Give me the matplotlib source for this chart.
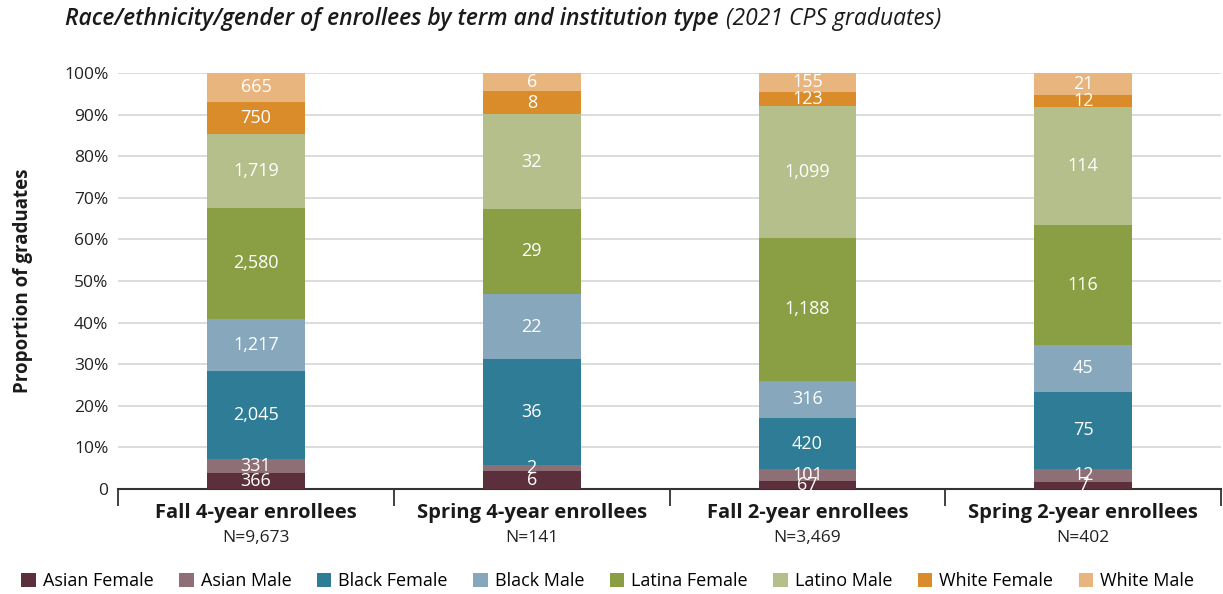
import matplotlib
matplotlib.use("Agg")
import matplotlib.pyplot as plt
import numpy as np
from matplotlib.patches import Patch

plt.rcParams["font.family"] = ["Open Sans", "DejaVu Sans"]

groups = ["Fall 4-year enrollees", "Spring 4-year enrollees",
          "Fall 2-year enrollees", "Spring 2-year enrollees"]
series = ["Asian Female", "Asian Male", "Black Female", "Black Male",
          "Latina Female", "Latino Male", "White Female", "White Male"]
colors = ["#5b2f3b", "#8e6f75", "#2f7c96", "#87a7bc",
          "#8a9f44", "#b5bf8b", "#d98c29", "#e8b57e"]

# counts per group, in the order of `series`
fall_4yr = [366, 331, 2045, 1217, 2580, 1719, 750, 665]
spring_4yr = [6, 2, 36, 22, 29, 32, 8, 6]
fall_2yr = [67, 101, 420, 316, 1188, 1099, 123, 155]
spring_2yr = [7, 12, 75, 45, 116, 114, 12, 21]

counts = np.array([fall_4yr, spring_4yr, fall_2yr, spring_2yr], dtype=float)
totals = counts.sum(axis=1)
shares = counts / totals[:, None]

fig = plt.figure(figsize=(12.23, 5.94), dpi=100)
ax = fig.add_axes([0.0965, 0.177, 0.902, 0.700])

x = np.arange(len(groups))
bottom = np.zeros(len(groups))
for j, name in enumerate(series):
    ax.bar(x, shares[:, j], bottom=bottom, width=0.355, color=colors[j],
           edgecolor="none", zorder=3)
    for i in range(len(groups)):
        ax.text(x[i], bottom[i] + shares[i, j] / 2, f"{int(counts[i, j]):,}",
                ha="center", va="center", color="white", fontsize=13,
                zorder=4)
    bottom += shares[:, j]

ax.set_xlim(-0.5, len(groups) - 0.5)
ax.set_ylim(0, 1)
ax.set_yticks(np.arange(0, 1.01, 0.1))
ax.set_yticklabels(["0"] + [f"{v}%" for v in range(10, 101, 10)])
ax.tick_params(axis="y", length=0, labelsize=12.5, colors="#222222", pad=7)
ax.grid(axis="y", color="#d9d9d9", linewidth=1.3, zorder=0)

# group boundaries as downward ticks, labels set separately
ax.set_xticks(np.arange(-0.5, len(groups), 1.0))
ax.set_xticklabels([])
ax.tick_params(axis="x", length=12, width=1.3, color="#333333", direction="out")
for i, g in enumerate(groups):
    ax.text(x[i], -0.035, g, ha="center", va="top", fontsize=14.5,
            fontweight="bold", color="#1a1a1a", clip_on=False)
    ax.text(x[i], -0.1, f"N={int(totals[i]):,}", ha="center", va="top",
            fontsize=12.5, color="#222222", clip_on=False)

for side in ["top", "right", "left"]:
    ax.spines[side].set_visible(False)
ax.spines["bottom"].set_color("#333333")
ax.spines["bottom"].set_linewidth(1.5)

ax.set_ylabel("Proportion of graduates", fontsize=13.5, fontweight="bold",
              color="#1a1a1a", labelpad=22)

title = fig.text(0.053, 0.968,
                 "Race/ethnicity/gender of enrollees by term and institution type",
                 fontsize=16.5, style="italic", fontweight="semibold",
                 color="#1a1a1a", ha="left", va="center")
renderer = fig.canvas.get_renderer()
bb = title.get_window_extent(renderer)
fig.text(bb.x1 / fig.bbox.width + 0.006, 0.968, "(2021 CPS graduates)",
         fontsize=16.5, style="italic", color="#1a1a1a", ha="left", va="center")

handles = [Patch(facecolor=c, edgecolor="none") for c in colors]
fig.legend(handles, series, loc="center", bbox_to_anchor=(0.497, 0.022),
           ncol=8, frameon=False, fontsize=13, handlelength=0.8,
           handleheight=0.8, handletextpad=0.4, columnspacing=1.4)

fig.savefig("out.png", dpi=100)
